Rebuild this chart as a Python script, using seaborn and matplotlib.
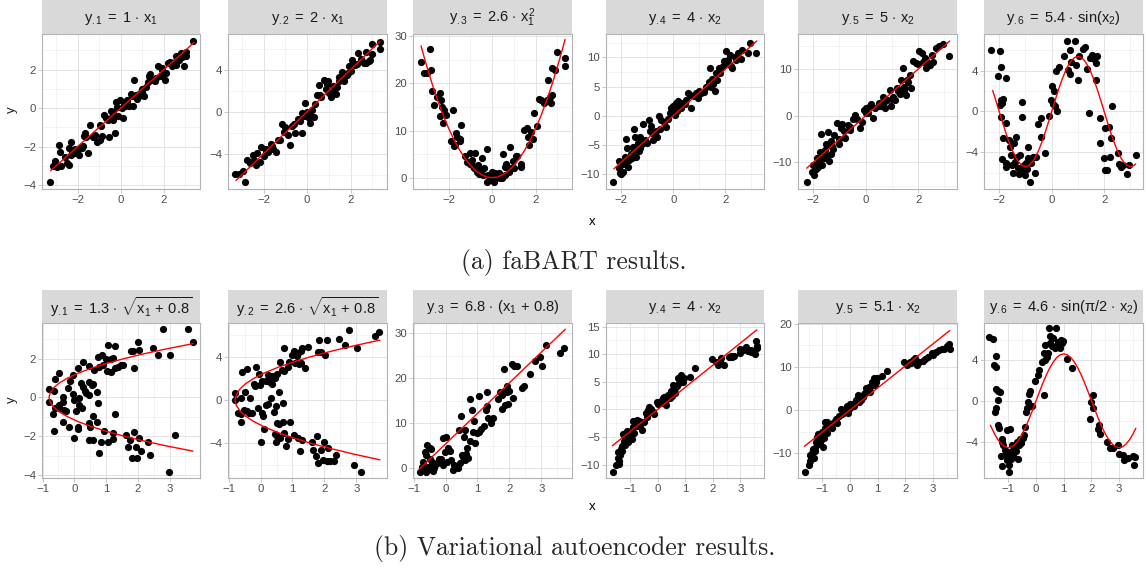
import numpy as np
import pandas as pd
import seaborn as sns
import matplotlib
matplotlib.use("Agg")
import matplotlib.pyplot as plt
from matplotlib.ticker import MultipleLocator

sns.set_style("white")
plt.rcParams["font.family"] = ["Liberation Sans", "DejaVu Sans"]
plt.rcParams["mathtext.fontset"] = "custom"
plt.rcParams["mathtext.rm"] = "Liberation Sans"
plt.rcParams["mathtext.it"] = "Liberation Sans"
plt.rcParams["mathtext.bf"] = "Liberation Sans:bold"
plt.rcParams["axes.unicode_minus"] = True

# ---------------- texts ----------------
titles_a = [r"$y_{.1} \;=\; 1 \,\cdot\, x_1$", r"$y_{.2} \;=\; 2 \,\cdot\, x_1$",
            r"$y_{.3} \;=\; 2.6 \,\cdot\, x_1^2$", r"$y_{.4} \;=\; 4 \,\cdot\, x_2$",
            r"$y_{.5} \;=\; 5 \,\cdot\, x_2$", r"$y_{.6} \;=\; 5.4 \,\cdot\, \sin(x_2)$"]
titles_b = [r"$y_{.1} \;=\; 1.3 \,\cdot\, \sqrt{x_1 \,+\, 0.8}$", r"$y_{.2} \;=\; 2.6 \,\cdot\, \sqrt{x_1 \,+\, 0.8}$",
            r"$y_{.3} \;=\; 6.8 \,\cdot\, (x_1 \,+\, 0.8)$", r"$y_{.4} \;=\; 4 \,\cdot\, x_2$",
            r"$y_{.5} \;=\; 5.1 \,\cdot\, x_2$", r"$y_{.6} \;=\; 4.6 \,\cdot\, \sin(\pi/2 \,\cdot\, x_2)$"]
captions = ["(a) faBART results.", "(b) Variational autoencoder results."]
axis_x_label = "x"
axis_y_label = "y"

# ---------------- data: (x, y) points ----------------
a1_xy = [(-3.29,-3.84),(-3.15,-2.99),(-3.06,-2.75),(-2.85,-1.91),(-2.8,-2.3),(-2.75,-3.0),(-2.6,-2.52),
         (-2.49,-2.83),(-2.38,-2.96),(-2.42,-2.09),(-2.31,-1.74),(-2.26,-2.26),(-2.15,-2.35),(-2.03,-2.26),
         (-1.88,-2.09),(-1.75,-1.97),(-1.95,-2.43),(-1.72,-1.44),(-1.52,-2.31),(-1.42,-0.87),(-1.65,-1.3),
         (-1.18,-1.39),(-1.11,-1.74),(-0.98,-1.65),(-0.91,-0.92),(-0.88,-1.44),(-0.77,-0.35),(-0.68,-0.52),
         (-0.52,-1.51),(-0.46,-0.17),(-0.34,-0.64),(-0.26,-1.27),(-0.22,0.30),(-0.11,-0.43),(-0.03,0.43),
         (0.05,0.0),(0.15,0.26),(0.28,0.43),(0.4,0.12),(0.51,0.61),(0.63,1.48),(0.55,0.09),(0.71,0.7),
         (0.86,0.61),(0.97,0.82),(1.08,0.61),(1.17,1.1),(1.32,1.65),(1.38,1.79),(1.58,1.39),(1.66,1.57),
         (1.74,2.17),(1.85,1.68),(1.94,2.09),(2.05,1.48),(2.12,1.83),(2.28,2.4),(2.4,2.17),(2.51,2.38),
         (2.58,2.7),(2.71,2.52),(2.82,2.87),(2.92,2.21),(3.02,2.73),(3.35,3.48),
         (-2.95,-3.05),(-2.3,-2.45),(-2.1,-2.1),(-1.8,-2.05),(-1.6,-1.5),(-0.95,-0.9),(-0.6,-0.6),
         (-0.4,-0.45),(-0.15,0.05),(0.1,-0.5),(0.3,0.35),(0.5,0.75),(0.75,0.45),(1.0,1.0),(1.25,1.35),
         (1.5,1.45),(1.9,2.0),(2.2,2.35),(2.55,2.25),(2.65,2.55),(2.85,2.65),(3.05,2.9),(-1.3,-1.5),
         (-0.35,-0.2),(0.2,0.1),(0.9,0.8)]

a2_xy = [(-3.31,-5.98),(-3.15,-5.92),(-2.85,-6.72),(-2.77,-4.58),(-2.62,-4.9),(-2.51,-4.16),(-2.38,-5.12),
         (-2.31,-3.94),(-2.18,-4.8),(-2.11,-3.36),(-1.92,-3.52),(-1.8,-3.84),(-1.69,-3.1),(-1.58,-3.52),
         (-1.43,-3.84),(-1.23,-2.66),(-1.15,-1.18),(-1.0,-1.5),(-0.88,-2.24),(-0.77,-3.2),(-0.69,-1.38),
         (-0.54,-2.08),(-0.42,-0.74),(-0.26,-2.08),(-0.23,-0.16),(-0.11,0.8),(-0.05,-0.42),(0.08,-0.64),
         (0.15,-1.12),(0.23,0.16),(0.38,0.74),(0.46,1.6),(0.54,2.56),(0.66,1.44),(0.77,3.04),(0.85,2.14),
         (0.97,2.88),(1.08,1.38),(1.18,2.46),(1.31,1.7),(1.38,2.34),(1.49,3.3),(1.62,3.74),(1.69,2.88),
         (1.85,3.52),(1.95,4.32),(2.08,4.96),(2.2,4.48),(2.35,5.6),(2.46,5.02),(2.62,4.64),(2.72,5.66),
         (2.85,4.8),(2.97,6.4),(3.34,6.62),(3.38,5.98),
         (-2.95,-5.7),(-2.45,-4.6),(-2.0,-4.2),(-1.9,-3.8),(-1.6,-3.3),(-1.35,-2.7),(-1.05,-1.9),
         (-0.6,-1.2),(-0.35,-0.9),(-0.2,-0.4),(0.0,0.0),(0.1,-0.2),(0.3,-0.5),(0.6,1.6),(0.9,2.6),
         (1.0,1.8),(1.2,1.9),(1.45,2.9),(1.75,3.4),(1.9,3.7),(2.0,3.9),(2.3,4.5),(2.55,4.8),(2.7,4.6),
         (2.9,4.9),(3.0,5.5)]

a3_xy = [(-3.28,24.5),(-3.15,22.2),(-3.0,22.3),(-2.85,27.3),(-2.8,22.8),(-2.77,18.3),(-2.69,15.5),
         (-2.54,17.2),(-2.42,17.9),(-2.38,16.5),(-2.31,15.1),(-2.23,14.4),(-2.42,13.1),(-2.29,11.6),
         (-2.11,13.3),(-1.8,14.4),(-1.92,7.7),(-1.77,6.7),(-1.69,9.4),(-1.62,8.7),(-1.49,7.7),(-1.42,11.2),
         (-1.23,4.5),(-1.18,3.4),(-1.0,5.2),(-0.92,3.8),(-0.85,2.0),(-0.77,5.3),(-0.72,1.3),(-0.66,2.7),
         (-0.54,1.6),(-0.46,4.1),(-0.38,2.0),(-0.26,6.0),(-0.26,-0.9),(-0.2,0.6),(-0.08,-0.5),(0.0,1.3),
         (0.08,-0.9),(0.15,0.9),(0.26,0.4),(0.38,-0.1),(0.46,-0.1),(0.51,5.0),(0.57,2.3),(0.66,3.0),
         (0.77,1.3),(0.82,6.6),(0.88,2.0),(0.97,3.6),(1.08,4.6),(1.15,4.6),(1.31,3.0),(1.35,2.3),
         (1.49,10.1),(1.62,10.5),(1.65,8.6),(1.69,7.0),(1.77,9.8),(1.89,8.2),(1.95,13.7),(2.05,11.0),
         (2.15,16.7),(2.26,16.4),(2.38,15.8),(2.51,16.5),(2.58,20.8),(2.66,17.2),(2.72,15.8),(2.77,17.6),
         (2.77,23.3),(2.88,22.9),(2.97,26.6),(3.34,25.5),(3.38,23.8),
         (-0.6,0.8),(-0.4,0.5),(-0.1,0.2),(0.1,-0.8),(0.3,1.0),(0.6,0.5),(-1.0,3.0),(-0.9,2.5),
         (1.0,2.0),(-1.5,8.2),(-1.7,7.0)]

a4_xy = [(-2.32,-11.3),(-2.06,-9.8),(-2.0,-10.0),(-1.94,-9.6),(-2.09,-7.7),(-1.94,-8.2),(-1.87,-7.0),
         (-1.81,-3.9),(-1.78,-5.6),(-1.74,-8.8),(-1.71,-7.5),(-1.62,-6.5),(-1.55,-5.4),(-1.49,-2.2),
         (-1.45,-3.6),(-1.42,-7.0),(-1.36,-4.6),(-1.29,-3.7),(-1.26,-5.6),(-1.17,-1.4),(-1.1,-4.2),
         (-1.01,-4.7),(-0.94,-0.7),(-0.91,-2.7),(-0.85,-1.8),(-0.78,-4.1),(-0.68,-2.7),(-0.63,-3.6),
         (-0.55,-0.1),(-0.46,-0.7),(-0.37,-1.0),(-0.29,-2.0),(-0.14,0.4),(-0.08,1.3),(-0.01,1.7),
         (0.05,1.0),(0.12,2.1),(0.18,2.6),(0.24,1.5),(0.37,2.1),(0.5,2.7),(0.56,3.9),(0.65,3.5),
         (0.69,1.3),(0.78,3.3),(0.86,3.9),(0.95,3.0),(1.08,3.9),(1.17,4.1),(1.27,4.9),(1.37,5.8),
         (1.4,8.1),(1.46,4.9),(1.53,5.5),(1.59,4.3),(1.63,7.4),(1.68,6.1),(1.76,8.1),(1.88,8.4),
         (1.94,9.4),(2.01,11.1),(2.1,9.5),(2.17,10.4),(2.27,8.1),(2.36,10.1),(2.49,10.7),(2.58,9.8),
         (2.65,11.3),(2.94,12.4),(3.19,10.8),(2.87,10.7),
         (-2.1,-9.0),(-1.9,-8.0),(-1.6,-7.2),(-1.5,-5.8),(-1.3,-6.0),(-1.2,-4.9),(-0.8,-3.0),
         (-0.5,-2.3),(-0.2,-0.5),(0.05,0.2),(0.15,0.8),(0.3,1.3),(0.45,2.0),(1.0,4.3),(1.5,6.3),
         (1.8,7.3),(2.05,8.8),(2.2,8.5),(2.4,9.5)]

a5_xy = [(-2.25,-14.2),(-2.04,-12.1),(-1.97,-12.6),(-1.91,-11.4),(-1.87,-10.3),(-1.82,-11.0),(-1.78,-9.4),
         (-1.75,-7.8),(-1.72,-4.0),(-1.66,-10.6),(-1.62,-8.5),(-1.57,-7.4),(-1.49,-8.7),(-1.47,-6.5),
         (-1.43,-3.5),(-1.41,-9.7),(-1.34,-5.4),(-1.32,-8.1),(-1.24,-7.1),(-1.19,-4.2),(-1.11,-1.5),
         (-1.03,-6.0),(-0.96,-2.7),(-0.9,-1.8),(-0.84,-3.2),(-0.77,-4.7),(-0.68,-2.0),(-0.58,-2.4),
         (-0.48,-0.6),(-0.39,0.1),(-0.33,-0.8),(-0.23,-2.7),(-0.14,-1.3),(-0.05,1.2),(0.03,1.6),
         (0.08,0.5),(0.15,2.1),(0.22,2.5),(0.28,-0.4),(0.37,1.6),(0.49,2.8),(0.58,2.1),(0.66,4.0),
         (0.75,1.6),(0.81,3.4),(0.91,5.4),(0.96,2.1),(1.04,4.1),(1.13,3.4),(1.22,5.2),(1.32,4.7),
         (1.42,10.2),(1.34,7.7),(1.47,6.1),(1.54,4.5),(1.59,7.6),(1.67,8.8),(1.72,5.9),(1.82,11.7),
         (1.92,11.2),(2.05,13.8),(2.14,13.5),(2.2,11.4),(2.3,10.2),(2.39,11.3),(2.52,13.1),(2.58,11.4),
         (2.68,14.5),(2.81,14.9),(2.96,15.3),(3.19,12.7),
         (-2.0,-10.5),(-1.85,-9.0),(-1.6,-9.0),(-1.5,-6.0),(-1.3,-6.5),(-1.0,-5.0),(-0.6,-3.0),
         (0.0,0.5),(0.5,2.0),(0.7,3.0),(1.0,3.5),(1.2,6.0),(1.45,5.5),(1.6,7.2),(2.0,11.0),
         (2.25,12.3),(2.45,10.8)]

a6_xy = [(-2.31,6.07),(-1.96,5.9),(-2.05,3.44),(-1.92,4.36),(-1.73,3.28),(-1.92,1.15),(-1.88,0.82),
         (-1.96,0.66),(-1.86,1.21),(-1.95,-0.56),(-1.73,-1.08),(-1.86,-2.62),(-1.88,-4.69),(-1.76,-5.08),
         (-1.76,-5.48),(-1.63,-2.79),(-1.58,-3.44),(-1.54,-4.26),(-1.5,-5.25),(-1.47,-6.07),(-1.45,-3.11),
         (-1.41,-4.92),(-1.35,-2.46),(-1.32,-4.43),(-1.28,-5.57),(-1.24,-6.13),(-1.22,-4.26),(-1.15,-5.41),
         (-1.12,-5.9),(-1.06,-5.25),(-1.03,-6.23),(-0.99,-5.02),(-0.94,-5.67),(-0.9,-4.59),(-0.9,-3.44),
         (-0.83,-6.89),(-0.77,-5.08),(-0.71,-4.43),(-0.64,-6.07),(-0.58,-4.49),(-0.51,-1.21),(-0.42,-0.66),
         (-0.42,-2.52),(-0.26,-4.03),(-1.12,0.98),(-1.15,-0.56),(-0.09,-0.43),(-0.04,1.08),(0.0,2.52),
         (0.09,1.97),(0.04,0.75),(0.13,0.56),(0.22,0.0),(0.17,3.93),(0.26,4.36),(0.45,5.41),(0.6,6.89),
         (0.68,6.0),(0.64,4.1),(0.68,3.64),(0.73,4.85),(0.9,6.89),(0.94,4.59),(0.99,3.05),(1.03,5.48),
         (1.19,6.13),(1.28,6.33),(1.35,4.16),(1.41,-0.16),(1.45,5.25),(1.54,5.57),(1.6,5.15),(1.67,4.75),
         (1.73,5.41),(1.67,3.11),(1.83,-0.66),(1.86,-3.11),(1.99,-4.59),(2.05,-5.74),(2.12,-5.74),
         (2.05,-1.64),(2.18,-1.48),(2.22,-4.43),(2.27,-2.62),(2.31,0.56),(2.53,-4.03),(2.56,-5.15),
         (2.63,-5.48),(2.73,-5.25),(2.86,-6.13),(2.95,-5.25),(3.21,-4.26)]

b1_xy = [(2.79,3.5),(3.58,3.5),(3.74,2.83),(2.0,2.87),(1.05,2.7),(1.29,2.64),(0.74,2.09),(0.87,2.18),
         (1.0,1.97),(1.16,1.97),(1.23,2.04),(0.77,1.58),(0.89,1.67),(1.02,1.36),(1.16,1.29),(1.29,1.49),
         (1.37,1.58),(1.47,1.67),(1.53,1.67),(1.79,2.39),(1.84,2.39),(1.89,1.53),(2.05,2.44),(2.47,2.56),
         (2.63,2.18),(3.02,2.21),(0.26,1.84),(0.45,1.63),(0.63,1.41),(0.11,1.53),(-0.03,1.18),(-0.14,0.84),
         (-0.21,0.5),(-0.47,1.24),(-0.6,0.94),(-0.79,0.43),(-0.63,0.33),(-0.81,-0.22),(-0.68,-0.88),
         (-0.6,-0.57),(-0.63,-1.73),(-0.47,-0.53),(-0.37,0.03),(-0.35,-0.22),(-0.32,-0.65),(-0.26,-0.7),
         (-0.35,-1.29),(-0.05,0.15),(0.0,-0.14),(0.05,-0.7),(0.11,-1.51),(0.11,-1.63),(0.0,-2.08),
         (0.16,-0.05),(0.21,0.72),(0.26,0.55),(0.32,0.33),(0.37,0.21),(0.45,0.81),(0.47,0.12),(0.56,0.64),
         (0.6,0.67),(0.71,0.26),(0.74,-0.31),(0.24,-0.53),(0.16,-0.39),(0.47,-1.34),(0.49,-1.51),
         (0.45,-2.2),(0.58,-2.2),(0.6,-0.94),(0.71,-1.29),(0.79,-2.88),(0.84,-2.32),(0.92,-1.73),
         (1.05,-2.32),(1.21,-1.85),(1.23,-2.15),(1.29,-0.88),(1.63,-1.94),(1.68,-2.54),(1.76,-2.2),
         (1.82,-3.11),(1.89,-1.77),(1.93,-2.54),(1.97,-3.11),(2.03,-2.11),(2.11,-2.76),(2.32,-2.28),
         (2.37,-2.97),(2.98,-3.86),(3.16,-1.94),(-0.18,-1.51),(-0.49,-0.39)]

b2_xy = [(2.77,6.52),(3.57,5.94),(3.72,6.31),(2.47,5.63),(2.63,5.08),(3.02,4.83),(1.83,5.54),(2.07,5.54),
         (1.79,4.4),(1.9,4.4),(2.02,4.15),(1.5,4.92),(1.31,4.77),(1.27,4.52),(1.06,4.52),(1.13,4.09),
         (1.18,4.31),(0.99,4.15),(1.08,3.38),(1.2,3.29),(1.27,3.38),(1.39,2.92),(0.74,4.83),(0.61,3.48),
         (0.68,2.77),(0.74,2.68),(0.85,3.08),(0.89,3.48),(0.5,2.37),(0.37,2.25),(0.22,2.31),(0.16,1.75),
         (0.29,1.63),(0.37,1.45),(0.45,2.06),(-0.05,2.37),(-0.13,3.08),(-0.2,1.45),(-0.16,1.32),
         (-0.02,1.38),(0.03,1.75),(-0.44,2.86),(-0.58,2.55),(-0.49,0.77),(-0.79,0.62),(-0.79,0.0),
         (-0.6,0.15),(-0.7,-1.23),(-0.6,-1.32),(-0.62,-2.0),(-0.51,-0.92),(-0.41,-1.02),(-0.37,-1.23),
         (-0.28,-1.23),(-0.34,0.15),(-0.09,-0.71),(0.03,-1.23),(0.08,-1.45),(0.12,-2.68),(0.01,-3.91),
         (0.16,-0.46),(0.22,-0.4),(0.32,0.15),(0.47,-0.52),(0.43,-1.14),(0.58,0.77),(0.71,-0.31),
         (0.5,-2.15),(0.58,-2.25),(0.71,-2.06),(0.92,-2.06),(0.45,-3.17),(0.53,-3.29),(0.47,-3.85),
         (0.61,-3.54),(0.74,-3.08),(0.79,-4.22),(0.85,-3.6),(1.06,-3.23),(1.16,-3.48),(1.24,-4.71),
         (1.31,-3.69),(1.62,-3.91),(1.65,-4.62),(1.73,-5.23),(1.76,-3.38),(1.79,-5.85),(1.9,-4.62),
         (1.94,-5.54),(2.0,-3.85),(2.07,-5.63),(2.1,-4.46),(2.18,-5.63),(2.31,-5.63),(2.36,-5.08),
         (2.94,-6.0),(3.15,-6.68)]

b3_xy = [(3.72,26.7),(3.59,25.7),(3.15,27.4),(2.96,24.8),(3.02,22.8),(2.81,23.9),(2.63,20.9),(2.46,18.4),
         (2.39,17.9),(2.23,22.8),(2.07,23.3),(2.13,22.8),(2.1,15.6),(1.83,22.1),(1.92,18.4),(2.0,17.2),
         (1.92,16.9),(1.83,16.9),(1.76,16.3),(1.71,17.0),(1.97,14.4),(1.86,14.2),(1.76,13.2),(1.65,15.4),
         (1.29,16.9),(1.06,16.1),(0.76,15.4),(1.31,13.9),(1.27,13.0),(1.5,11.1),(1.34,11.3),(1.41,10.2),
         (1.2,9.5),(1.1,8.7),(1.06,8.1),(0.97,7.8),(0.89,10.5),(0.82,13.0),(0.85,8.1),(0.92,5.6),
         (0.76,6.1),(0.68,4.6),(0.58,7.0),(0.47,11.7),(0.43,8.5),(0.61,8.5),(0.71,2.4),(0.61,1.9),
         (0.5,3.0),(0.64,3.1),(0.45,1.1),(0.35,0.4),(0.24,-0.4),(0.26,0.7),(0.16,1.9),(0.08,4.6),
         (0.14,3.9),(-0.02,3.7),(-0.13,2.2),(0.01,7.0),(-0.09,6.7),(-0.2,2.2),(0.03,1.5),(-0.3,0.9),
         (-0.37,0.0),(-0.41,1.5),(-0.54,0.4),(-0.49,2.2),(-0.6,3.0),(-0.65,3.7),(-0.49,4.6),(-0.58,5.2),
         (-0.47,4.4),(-0.75,0.4),(-0.81,-0.9),(-0.6,-0.9),(-0.39,-0.6),(-0.7,1.5),(-0.09,0.7),(0.4,0.1),
         (0.55,2.6),(-0.26,1.3)]

b4_xy = [(-1.64,-11.4),(-1.5,-10.1),(-1.42,-9.3),(-1.4,-9.9),(-1.46,-7.7),(-1.37,-8.3),(-1.34,-7.2),
         (-1.3,-6.7),(-1.25,-4.5),(-1.22,-5.8),(-1.18,-5.1),(-1.13,-3.9),(-1.09,-6.0),(-1.06,-5.4),
         (-1.01,-4.9),(-0.97,-4.0),(-0.94,-5.4),(-0.89,-2.2),(-0.85,-4.3),(-0.81,-2.8),(-0.77,-1.9),
         (-0.69,-2.1),(-0.64,-2.8),(-0.57,-3.7),(-0.49,-2.3),(-0.43,-0.7),(-0.36,-0.1),(-0.3,0.5),
         (-0.24,0.1),(-0.18,-0.5),(-0.12,-0.9),(-0.04,1.4),(0.06,1.1),(0.18,2.0),(0.24,2.3),(0.3,0.7),
         (0.36,2.6),(0.43,2.0),(0.49,3.3),(0.55,4.4),(0.61,2.9),(0.64,3.9),(0.73,5.7),(0.79,4.7),
         (0.85,6.2),(0.91,5.0),(0.97,5.6),(1.16,5.9),(1.34,7.5),(1.98,9.1),(2.13,8.5),(2.25,8.7),
         (2.31,9.3),(2.4,8.1),(2.59,9.5),(2.67,9.7),(2.76,9.7),(2.98,10.9),(3.08,10.7),(3.2,11.3),
         (3.28,10.5),(3.37,10.3),(3.53,10.1),(3.59,11.1),(3.56,12.3),(3.61,11.5),
         (-1.45,-8.8),(-1.3,-7.6),(-1.2,-6.5),(-1.0,-4.4),(-0.9,-3.2),(-0.75,-3.0),(-0.6,-2.3),
         (-0.4,-1.3),(-0.2,-0.3),(0.0,0.9),(0.1,1.6),(0.2,1.2),(0.35,1.8),(0.5,2.5),(0.6,3.6),
         (0.7,4.2),(0.8,5.2),(2.2,8.0),(2.7,9.4),(3.0,10.2),(3.4,10.8)]

b5_xy = [(-1.63,-14.4),(-1.49,-12.7),(-1.43,-11.9),(-1.46,-10.5),(-1.39,-10.0),(-1.34,-9.0),(-1.3,-11.0),
         (-1.27,-8.7),(-1.22,-7.3),(-1.18,-6.2),(-1.15,-5.6),(-1.1,-7.9),(-1.06,-6.9),(-1.02,-5.0),
         (-0.98,-8.5),(-0.94,-6.4),(-0.9,-2.8),(-0.85,-5.4),(-0.82,-2.8),(-0.76,-3.5),(-0.66,-4.1),
         (-0.57,-2.8),(-0.49,-3.1),(-0.39,-1.5),(-0.33,0.2),(-0.27,-0.8),(-0.17,-0.2),(-0.09,-0.8),
         (-0.12,1.0),(-0.02,1.3),(0.1,1.5),(0.22,2.3),(0.28,3.5),(0.34,1.8),(0.4,2.3),(0.49,3.8),
         (0.56,5.2),(0.61,4.4),(0.68,5.4),(0.73,4.1),(0.8,6.5),(0.85,7.5),(0.93,6.4),(0.98,7.3),
         (1.17,7.9),(1.32,9.0),(1.95,11.0),(2.05,10.5),(2.15,11.0),(2.27,11.5),(2.35,12.1),(2.41,10.5),
         (2.63,11.3),(2.72,11.8),(2.96,13.1),(3.09,13.5),(3.21,13.8),(3.33,14.2),(3.57,15.2),(3.61,14.2),
         (3.51,14.8),
         (-1.4,-11.0),(-1.25,-9.5),(-1.1,-6.5),(-1.0,-6.0),(-0.9,-4.2),(-0.7,-3.2),(-0.5,-2.0),
         (-0.3,-1.0),(0.0,0.5),(0.15,1.0),(0.3,2.8),(0.45,3.0),(0.55,4.0),(0.65,4.8),(0.75,5.5),
         (0.9,5.8),(2.2,10.8),(2.5,11.2),(2.8,12.3),(3.0,12.8),(3.4,14.0)]

b6_xy = [(-1.71,6.2),(-1.55,6.07),(-1.46,4.43),(-1.51,3.51),(-1.43,3.34),(-1.46,1.15),(-1.39,0.95),
         (-1.3,0.89),(-1.39,0.07),(-1.43,-0.69),(-1.49,-1.08),(-1.39,-2.39),(-1.34,-2.66),(-1.24,-3.7),
         (-1.22,-4.03),(-1.18,-4.36),(-1.27,-5.41),(-1.24,-6.39),(-1.12,-4.85),(-1.1,-5.34),(-1.06,-5.84),
         (-1.02,-5.61),(-0.98,-6.33),(-0.98,-6.98),(-0.94,-5.02),(-0.9,-5.67),(-0.88,-4.36),(-0.82,-5.34),
         (-0.78,-4.62),(-0.73,-4.95),(-0.7,-4.03),(-0.66,-5.67),(-0.63,-4.3),(-0.57,-3.77),(-0.54,-4.1),
         (-0.49,-3.64),(-0.45,-3.31),(-0.41,-2.56),(-1.06,-2.89),(-0.94,-2.79),(-0.37,-1.15),(-0.33,-0.69),
         (-0.29,-0.16),(-0.27,0.62),(-0.21,0.95),(-0.15,-0.49),(-0.05,1.93),(0.07,2.52),(0.12,3.02),
         (0.2,3.77),(0.28,0.56),(0.28,4.66),(0.34,5.48),(0.32,4.0),(0.4,4.33),(0.44,4.66),(0.46,7.11),
         (0.49,6.3),(0.52,5.64),(0.59,5.41),(0.61,6.13),(0.68,5.15),(0.73,7.11),(0.77,5.48),(0.8,5.74),
         (0.85,5.21),(0.89,5.97),(0.95,5.64),(0.98,5.87),(1.13,4.1),(1.29,3.18),(2.07,0.56),(1.99,-0.16),
         (2.07,-0.75),(1.93,-1.8),(2.23,-2.72),(2.29,-3.21),(2.27,-2.39),(2.56,-4.03),(2.68,-4.62),
         (2.96,-4.36),(3.0,-5.18),(3.12,-5.34),(3.17,-5.84),(3.33,-5.61),(3.49,-5.41),(3.57,-5.51),
         (3.54,-6.26),(2.76,-4.62)]

# ---------------- data: red fitted curves (x, y) ----------------
a1_curve = [(-3.25,-3.25),(3.4,3.4)]
a2_curve = [(-3.28,-6.56),(3.36,6.72)]
a3_curve = [(-3.28,27.97),(-3.0,23.4),(-2.75,19.66),(-2.5,16.25),(-2.25,13.16),(-2.0,10.4),(-1.75,7.96),
            (-1.5,5.85),(-1.25,4.06),(-1.0,2.6),(-0.75,1.46),(-0.5,0.65),(-0.25,0.16),(0.0,0.0),
            (0.25,0.16),(0.5,0.65),(0.75,1.46),(1.0,2.6),(1.25,4.06),(1.5,5.85),(1.75,7.96),(2.0,10.4),
            (2.25,13.16),(2.5,16.25),(2.75,19.66),(3.0,23.4),(3.25,27.46),(3.36,29.35)]
a4_curve = [(-2.28,-9.1),(3.2,12.8)]
a5_curve = [(-2.25,-11.25),(3.2,16.0)]
a6_curve = [(-2.25,2.07),(-2.125,1.05),(-2.0,0.0),(-1.875,-1.05),(-1.75,-2.07),(-1.625,-3.0),(-1.5,-3.82),
            (-1.375,-4.49),(-1.25,-4.99),(-1.125,-5.30),(-1.0,-5.4),(-0.875,-5.30),(-0.75,-4.99),
            (-0.625,-4.49),(-0.5,-3.82),(-0.375,-3.0),(-0.25,-2.07),(-0.125,-1.05),(0.0,0.0),(0.125,1.05),
            (0.25,2.07),(0.375,3.0),(0.5,3.82),(0.625,4.49),(0.75,4.99),(0.875,5.30),(1.0,5.4),(1.125,5.30),
            (1.25,4.99),(1.375,4.49),(1.5,3.82),(1.625,3.0),(1.75,2.07),(1.875,1.05),(2.0,0.0),(2.125,-1.05),
            (2.25,-2.07),(2.375,-3.0),(2.5,-3.82),(2.625,-4.49),(2.75,-4.99),(2.875,-5.30),(3.0,-5.4),
            (3.125,-5.30),(3.2,-5.14)]
b1_curve = [(3.74,-2.77),(2.9,-2.5),(2.2,-2.25),(1.57,-2.0),(1.01,-1.75),(0.53,-1.5),(0.12,-1.25),
            (-0.21,-1.0),(-0.47,-0.75),(-0.65,-0.5),(-0.76,-0.25),(-0.8,0.0),(-0.76,0.25),(-0.65,0.5),
            (-0.47,0.75),(-0.21,1.0),(0.12,1.25),(0.53,1.5),(1.01,1.75),(1.57,2.0),(2.2,2.25),(2.9,2.5),
            (3.74,2.77)]
b2_curve = [(3.74,-5.54),(2.9,-5.0),(2.2,-4.5),(1.57,-4.0),(1.01,-3.5),(0.53,-3.0),(0.12,-2.5),
            (-0.21,-2.0),(-0.47,-1.5),(-0.65,-1.0),(-0.76,-0.5),(-0.8,0.0),(-0.76,0.5),(-0.65,1.0),
            (-0.47,1.5),(-0.21,2.0),(0.12,2.5),(0.53,3.0),(1.01,3.5),(1.57,4.0),(2.2,4.5),(2.9,5.0),
            (3.74,5.54)]
b3_curve = [(-0.8,0.0),(3.75,30.94)]
b4_curve = [(-1.65,-6.6),(3.6,14.4)]
b5_curve = [(-1.65,-8.4),(3.6,18.4)]
b6_curve = [(-1.65,-2.40),(-1.5,-3.25),(-1.375,-3.82),(-1.25,-4.25),(-1.125,-4.51),(-1.0,-4.6),
            (-0.875,-4.51),(-0.75,-4.25),(-0.625,-3.82),(-0.5,-3.25),(-0.375,-2.56),(-0.25,-1.76),
            (-0.125,-0.90),(0.0,0.0),(0.125,0.90),(0.25,1.76),(0.375,2.56),(0.5,3.25),(0.625,3.82),
            (0.75,4.25),(0.875,4.51),(1.0,4.6),(1.125,4.51),(1.25,4.25),(1.375,3.82),(1.5,3.25),
            (1.625,2.56),(1.75,1.76),(1.875,0.90),(2.0,0.0),(2.125,-0.90),(2.25,-1.76),(2.375,-2.56),
            (2.5,-3.25),(2.625,-3.82),(2.75,-4.25),(2.875,-4.51),(3.0,-4.6),(3.125,-4.51),(3.25,-4.25),
            (3.375,-3.82),(3.5,-3.25),(3.6,-2.70)]

# ---------------- layout (pixels) ----------------
W, H = 1147, 573
fig = plt.figure(figsize=(W / 100, H / 100), dpi=100)

cols_left = [42, 228, 413, 606, 798, 984]
cols_right = [200, 387, 572, 764, 957, 1143]

rows = [
    dict(strip_top=0, top=34, bottom=189, titles=titles_a,
         pts=[a1_xy, a2_xy, a3_xy, a4_xy, a5_xy, a6_xy],
         curves=[a1_curve, a2_curve, a3_curve, a4_curve, a5_curve, a6_curve],
         xlims=[(-3.65, 3.68)] * 3 + [(-2.58, 3.48)] * 3,
         ylims=[(-4.2, 3.85), (-7.38, 7.4), (-2.4, 30.5), (-12.55, 14.0), (-15.7, 17.5), (-7.6, 7.6)],
         xmaj=[2] * 6, ymaj=[2, 4, 10, 5, 10, 4]),
    dict(strip_top=290, top=322.7, bottom=478.3, titles=titles_b,
         pts=[b1_xy, b2_xy, b3_xy, b4_xy, b5_xy, b6_xy],
         curves=[b1_curve, b2_curve, b3_curve, b4_curve, b5_curve, b6_curve],
         xlims=[(-1.02, 3.96)] * 3 + [(-1.88, 3.86)] * 3,
         ylims=[(-4.17, 3.85), (-7.25, 7.15), (-2.2, 32.4), (-12.5, 15.7), (-15.8, 20.2), (-7.6, 7.65)],
         xmaj=[1] * 6, ymaj=[2, 4, 10, 5, 10, 4]),
]

border = "#B3B3B3"
for row in rows:
    for i in range(6):
        l, r = cols_left[i], cols_right[i]
        ax = fig.add_axes([l / W, 1 - row["bottom"] / H, (r - l) / W, (row["bottom"] - row["top"]) / H])
        df = pd.DataFrame(row["pts"][i], columns=["x", "y"])
        cdf = pd.DataFrame(row["curves"][i], columns=["x", "y"])
        sns.scatterplot(data=df, x="x", y="y", ax=ax, color="black", s=27, linewidth=0,
                        legend=False, zorder=3)
        sns.lineplot(data=cdf, x="x", y="y", ax=ax, color="red", sort=False, estimator=None,
                     linewidth=1.0, zorder=4)
        ax.set_xlim(*row["xlims"][i])
        ax.set_ylim(*row["ylims"][i])
        ax.xaxis.set_major_locator(MultipleLocator(row["xmaj"][i]))
        ax.xaxis.set_minor_locator(MultipleLocator(row["xmaj"][i] / 2))
        ax.yaxis.set_major_locator(MultipleLocator(row["ymaj"][i]))
        ax.yaxis.set_minor_locator(MultipleLocator(row["ymaj"][i] / 2))
        ax.set_xlabel("")
        ax.set_ylabel("")
        ax.set_facecolor("white")
        ax.set_axisbelow(True)
        ax.grid(True, which="major", color="#DEDEDE", linewidth=0.6)
        ax.grid(True, which="minor", color="#EBEBEB", linewidth=0.4)
        for sp in ax.spines.values():
            sp.set_visible(True)
            sp.set_color(border)
            sp.set_linewidth(0.8)
        ax.tick_params(which="major", bottom=True, left=True, length=2.75, width=0.5, color=border,
                       labelsize=8.2, labelcolor="#4D4D4D", pad=1.5)
        ax.tick_params(which="minor", bottom=False, left=False, length=0)
        # strip
        sax = fig.add_axes([l / W, 1 - row["top"] / H, (r - l) / W, (row["top"] - row["strip_top"]) / H])
        sax.set_facecolor("#D9D9D9")
        sax.set_xticks([])
        sax.set_yticks([])
        for sp in sax.spines.values():
            sp.set_visible(False)
        sax.text(0.5, 0.47, row["titles"][i], ha="center", va="center", fontsize=10.5,
                 color="#1A1A1A", transform=sax.transAxes)

# axis titles
fig.text(592 / W, 1 - 222 / H, axis_x_label, ha="center", va="center", fontsize=9.5, color="black")
fig.text(592 / W, 1 - 507 / H, axis_x_label, ha="center", va="center", fontsize=9.5, color="black")
fig.text(12 / W, 1 - 110 / H, axis_y_label, ha="center", va="center", fontsize=9.5, rotation=90)
fig.text(12 / W, 1 - 400 / H, axis_y_label, ha="center", va="center", fontsize=9.5, rotation=90)

# captions
fig.text(574 / W, 1 - 262 / H, captions[0], ha="center", va="center", fontsize=18.5, family="cmr10")
fig.text(575 / W, 1 - 548 / H, captions[1], ha="center", va="center", fontsize=18.5, family="cmr10")

fig.savefig("out.png", dpi=100, facecolor="white")
